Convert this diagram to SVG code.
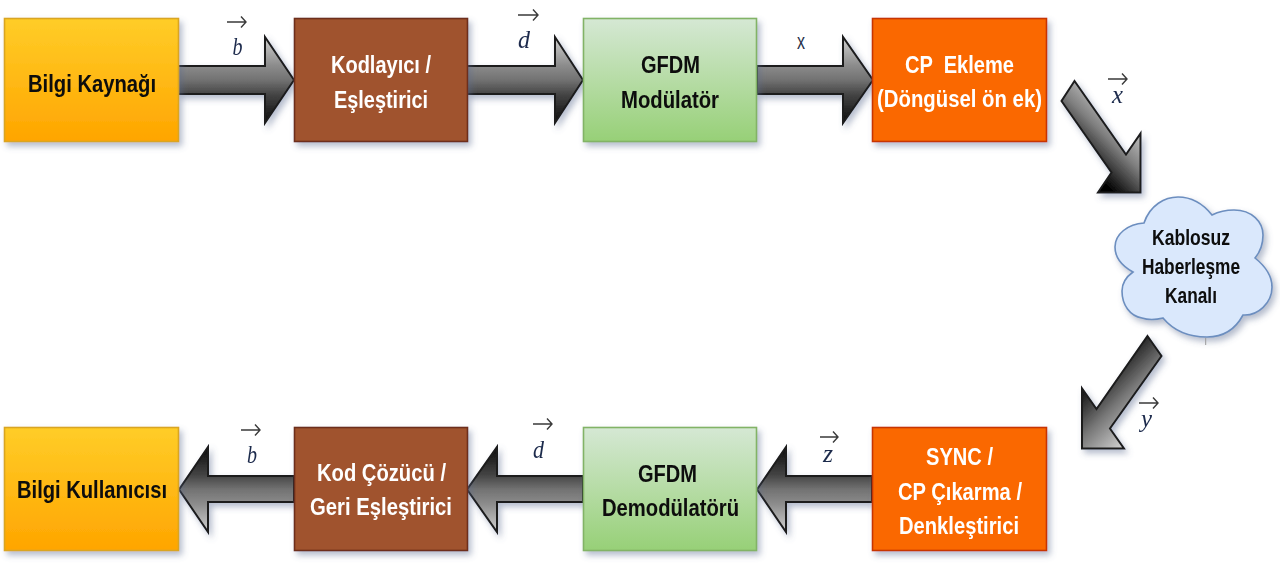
<svg xmlns="http://www.w3.org/2000/svg" width="1280" height="574" viewBox="0 0 1280 574">
<style>
.bx{stroke-width:1.6;filter:url(#sh)}
.ar{stroke:#1c1c1c;stroke-width:2;stroke-linejoin:miter;filter:url(#sh)}
.t{font-family:"Liberation Sans",Arial,sans-serif;font-weight:bold;font-size:24px;filter:url(#bl)}
.c{font-size:22px}
.w{fill:#fff}.k{fill:#0a0a0a}
.m{font-family:"Liberation Serif","Times New Roman",serif;font-style:italic;font-size:26px;fill:#1c2a4c;filter:url(#bl)}
.v{fill:none;stroke:#3a3a3a;stroke-width:1.4}
</style>
<defs>
<linearGradient id="gy" x1="0" y1="0" x2="0" y2="1"><stop offset="0" stop-color="#ffcd28"/><stop offset="1" stop-color="#ffa500"/></linearGradient>
<linearGradient id="gg" x1="0" y1="0" x2="0" y2="1"><stop offset="0" stop-color="#d5e8d4"/><stop offset="1" stop-color="#97d077"/></linearGradient>
<linearGradient id="ad" x1="0" y1="0" x2="0" y2="1"><stop offset="0" stop-color="#d0d0d0"/><stop offset="0.33" stop-color="#8c8c8c"/><stop offset="0.5" stop-color="#727272"/><stop offset="0.67" stop-color="#444"/><stop offset="1" stop-color="#0a0a0a"/></linearGradient>
<linearGradient id="au" x1="0" y1="0" x2="0" y2="1"><stop offset="0" stop-color="#0a0a0a"/><stop offset="0.33" stop-color="#444"/><stop offset="0.5" stop-color="#727272"/><stop offset="0.67" stop-color="#8c8c8c"/><stop offset="1" stop-color="#d0d0d0"/></linearGradient>
<linearGradient id="a1" gradientUnits="userSpaceOnUse" x1="1135" y1="115" x2="1085" y2="165"><stop offset="0" stop-color="#d8d8d8"/><stop offset="0.5" stop-color="#808080"/><stop offset="1" stop-color="#000"/></linearGradient>
<linearGradient id="a2" gradientUnits="userSpaceOnUse" x1="1085" y1="380" x2="1140" y2="435"><stop offset="0" stop-color="#000"/><stop offset="0.5" stop-color="#777"/><stop offset="1" stop-color="#d8d8d8"/></linearGradient>
<filter id="sh" x="-15%" y="-15%" width="130%" height="135%"><feDropShadow dx="3" dy="4" stdDeviation="3" flood-color="#5a6a90" flood-opacity="0.45"/></filter>
<filter id="bl" x="-5%" y="-15%" width="110%" height="130%"><feGaussianBlur stdDeviation="0.55"/></filter>
</defs>
<g id="connectors">
<path class="ar" fill="url(#ad)" d="M178 66H265V37L294 80L265 123V94H178Z"/>
<path class="ar" fill="url(#ad)" d="M467 66H555V37L583 80L555 123V94H467Z"/>
<path class="ar" fill="url(#ad)" d="M757 66H843V37L873 80L843 123V94H757Z"/>
<path class="ar" fill="url(#a1)" d="M1074.5 81L1061.5 101L1111.5 172.5L1098 192.5H1140.5V133.5L1126 154.5Z"/>
<path class="ar" fill="url(#a2)" d="M1147.5 336L1161.5 356L1110 428.5L1124 448.5H1082V388.5L1096.5 409Z"/>
<path class="ar" fill="url(#au)" d="M872 476H786V447L757 489.5L786 532V502H872Z"/>
<path class="ar" fill="url(#au)" d="M583 476H497V447L467 489.5L497 532V502H583Z"/>
<path class="ar" fill="url(#au)" d="M294 476H208V447L179 489.5L208 532V502H294Z"/>
<g id="labels">
<text class="m" x="232.500" y="55" textLength="10" lengthAdjust="spacingAndGlyphs">b</text><path class="v" d="M227 22H246M241 16.500L246 22L241 27.500"/>
<text class="m" x="518" y="48" textLength="12" lengthAdjust="spacingAndGlyphs">d</text><path class="v" d="M518 15H538M533 9.500L538 15L533 20.500"/>
<text x="797" y="49" font-family="Liberation Sans,Arial,sans-serif" font-size="22" fill="#26304a" textLength="8" lengthAdjust="spacingAndGlyphs">x</text>
<text class="m" x="1112" y="103" textLength="11" lengthAdjust="spacingAndGlyphs">x</text><path class="v" d="M1108 79H1127M1122 73.500L1127 79L1122 84.500"/>
<text class="m" x="1141" y="427" textLength="11" lengthAdjust="spacingAndGlyphs">y</text><path class="v" d="M1139 403H1158M1153 397.500L1158 403L1153 408.500"/>
<text class="m" x="823" y="462" textLength="10" lengthAdjust="spacingAndGlyphs">z</text><path class="v" d="M820 437H838M833 431.500L838 437L833 442.500"/>
<text class="m" x="533" y="458" textLength="11" lengthAdjust="spacingAndGlyphs">d</text><path class="v" d="M533 424H552M547 418.500L552 424L547 429.500"/>
<text class="m" x="247" y="463" textLength="10" lengthAdjust="spacingAndGlyphs">b</text><path class="v" d="M241 430H260M255 424.500L260 430L255 435.500"/>
</g>
</g>
<g id="bilgi-kaynagi"><rect class="bx" x="4.500" y="18.500" width="174" height="123" fill="url(#gy)" stroke="#d9a520"/><text class="t k" x="28" y="92" textLength="128" lengthAdjust="spacingAndGlyphs">Bilgi Kaynağı</text></g>
<g id="kodlayici"><rect class="bx" x="294.500" y="18.500" width="173" height="123" fill="#a0522d" stroke="#6d2e1a"/><text class="t w" x="331" y="73" textLength="100" lengthAdjust="spacingAndGlyphs">Kodlayıcı /</text><text class="t w" x="334" y="108" textLength="94" lengthAdjust="spacingAndGlyphs">Eşleştirici</text></g>
<g id="gfdm-mod"><rect class="bx" x="583.500" y="18.500" width="173" height="123" fill="url(#gg)" stroke="#82b366"/><text class="t k" x="641" y="73" textLength="59" lengthAdjust="spacingAndGlyphs">GFDM</text><text class="t k" x="621" y="108" textLength="98" lengthAdjust="spacingAndGlyphs">Modülatör</text></g>
<g id="cp-ekleme"><rect class="bx" x="872.500" y="18.500" width="174" height="123" fill="#fa6800" stroke="#c73500"/><text class="t w" x="905" y="73" textLength="109" lengthAdjust="spacingAndGlyphs" xml:space="preserve">CP  Ekleme</text><text class="t w" x="877" y="107" textLength="165" lengthAdjust="spacingAndGlyphs">(Döngüsel ön ek)</text></g>
<g id="kanal"><path class="bx" fill="#dae8fc" stroke="#6c8ebf" d="M1144 223C1150 205 1165 197 1178 197C1192 197 1204 205 1212 215C1220 211 1228 210 1234 210C1252 210 1263 222 1263 235C1263 244 1260 252 1255 258C1265 266 1272 276 1272 287C1272 303 1258 316 1243 315C1235 330 1222 337 1207 337C1188 337 1173 330 1163 318C1155 320 1148 320 1142 318C1130 316 1122 305 1122 291C1122 283 1126 277 1133 272C1122 266 1115 258 1115 247C1115 234 1128 224 1144 223Z"/><path d="M1205.700 338V345" stroke="#999" stroke-width="1" fill="none"/><text class="t k c" x="1152" y="245" textLength="78" lengthAdjust="spacingAndGlyphs">Kablosuz</text><text class="t k c" x="1142" y="274" textLength="98" lengthAdjust="spacingAndGlyphs">Haberleşme</text><text class="t k c" x="1165" y="303" textLength="52" lengthAdjust="spacingAndGlyphs">Kanalı</text></g>
<g id="bilgi-kullanicisi"><rect class="bx" x="4.500" y="427.500" width="174" height="123" fill="url(#gy)" stroke="#d9a520"/><text class="t k" x="17" y="498" textLength="150" lengthAdjust="spacingAndGlyphs">Bilgi Kullanıcısı</text></g>
<g id="kod-cozucu"><rect class="bx" x="294.500" y="427.500" width="173" height="123" fill="#a0522d" stroke="#6d2e1a"/><text class="t w" x="317" y="481" textLength="129" lengthAdjust="spacingAndGlyphs">Kod Çözücü /</text><text class="t w" x="310" y="515" textLength="142" lengthAdjust="spacingAndGlyphs">Geri Eşleştirici</text></g>
<g id="gfdm-demod"><rect class="bx" x="583.500" y="427.500" width="173" height="123" fill="url(#gg)" stroke="#82b366"/><text class="t k" x="638" y="482" textLength="59" lengthAdjust="spacingAndGlyphs">GFDM</text><text class="t k" x="602" y="516" textLength="137" lengthAdjust="spacingAndGlyphs">Demodülatörü</text></g>
<g id="sync"><rect class="bx" x="872.500" y="427.500" width="174" height="123" fill="#fa6800" stroke="#c73500"/><text class="t w" x="926" y="465" textLength="67" lengthAdjust="spacingAndGlyphs">SYNC /</text><text class="t w" x="898" y="500" textLength="124" lengthAdjust="spacingAndGlyphs">CP Çıkarma /</text><text class="t w" x="899" y="534" textLength="120" lengthAdjust="spacingAndGlyphs">Denkleştirici</text></g>
</svg>
